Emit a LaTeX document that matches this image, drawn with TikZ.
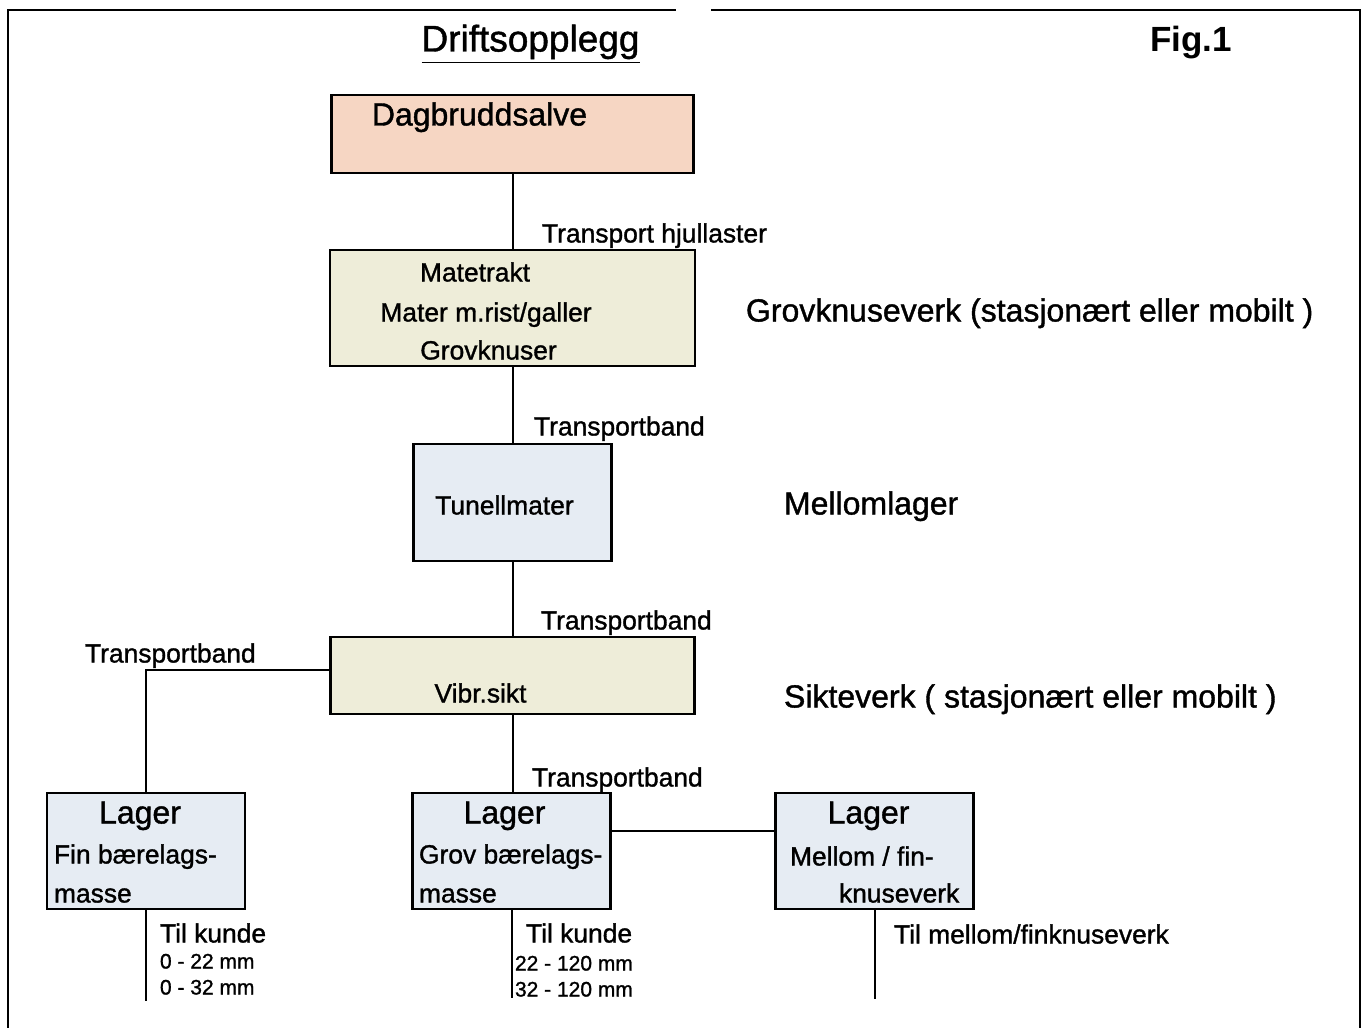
\documentclass[tikz,border=0pt]{standalone}
\usepackage{fontspec}
\setmainfont{Liberation Sans}[BoldFont={Liberation Sans Bold}]
\newfontfamily\heavy{Liberation Sans}[FakeBold=1.2]
\usepackage{tikz}

\definecolor{peach}{HTML}{F6D6C3}
\definecolor{sand}{HTML}{EEEDD9}
\definecolor{ice}{HTML}{E6ECF3}

\begin{document}
\begin{tikzpicture}[x=0.5pt,y=-0.5pt,line width=1pt]

  \tikzstyle{box}=[draw, line width=1.2pt, inner sep=0pt]
  \tikzstyle{txt}=[inner sep=0pt, text height=0.75em, text depth=0.2em, yshift=-2.5pt]
  \tikzstyle{big}=[txt, font=\heavy\fontsize{16}{18}\selectfont]
  \tikzstyle{mid}=[txt, font=\heavy\fontsize{13.2}{15}\selectfont]
  \tikzstyle{small}=[txt, font=\heavy\fontsize{10.5}{12}\selectfont]

  \useasboundingbox (0,0) rectangle (1368,1027);

  % frame
  \draw (8,1040) -- (8,10) -- (676,10);
  \draw (711,10) -- (1360,10) -- (1360,1040);

  \node[txt, font=\heavy\fontsize{18.5}{20}\selectfont] (tittel) at (530.5,41) {\underline{Driftsopplegg}};
  \node[txt, font=\fontsize{17.5}{20}\selectfont\bfseries] (fig) at (1191,41) {Fig.1};

  % boxes
  \node[box, fill=peach, minimum width=181pt,   minimum height=39pt]   (salve)  at (512.5,134)   {};
  \node[box, fill=sand,  minimum width=182.5pt, minimum height=58pt]   (knus)   at (512.5,308)   {};
  \node[box, fill=ice,   minimum width=99pt,    minimum height=58.5pt] (tunnel) at (512.5,502.5) {};
  \node[box, fill=sand,  minimum width=182pt,   minimum height=38.5pt] (sikt)   at (512.5,675.5) {};
  \node[box, fill=ice,   minimum width=99pt,    minimum height=58pt]   (fin)    at (146,851)     {};
  \node[box, fill=ice,   minimum width=99pt,    minimum height=58pt]   (grov)   at (511.5,851)   {};
  \node[box, fill=ice,   minimum width=99pt,    minimum height=58pt]   (mellom) at (874.5,851)   {};

  \coordinate (finut)    at ([yshift=-45.5pt]fin.south);
  \coordinate (grovut)   at ([yshift=-44pt]grov.south);
  \coordinate (mellomut) at ([yshift=-44.5pt]mellom.south);

  % texts in boxes
  \node[big] (t1) at (479.5,115) {Dagbruddsalve};
  \node[mid] (t2) at (475,271)   {Matetrakt};
  \node[mid] (t3) at (486,311)   {Mater m.rist/galler};
  \node[mid] (t4) at (488.5,349) {Grovknuser};
  \node[mid] (t5) at (504.5,504) {Tunellmater};
  \node[mid] (t6) at (480.5,692) {Vibr.sikt};

  \node[big] (f1) at (140,813)            {Lager};
  \node[mid, anchor=west] (f2) at (53,853) {Fin bærelags-};
  \node[mid, anchor=west] (f3) at (53,892) {masse};
  \node[big] (g1) at (504.5,813)           {Lager};
  \node[mid, anchor=west] (g2) at (418,853) {Grov bærelags-};
  \node[mid, anchor=west] (g3) at (418,892) {masse};
  \node[big] (m1) at (868.5,813)           {Lager};
  \node[mid, anchor=west] (m2) at (789,855) {Mellom / fin-};
  \node[mid, anchor=west] (m3) at (838,892) {knuseverk};

  % side texts
  \node[big, anchor=west] (s1) at (745,311) {Grovknuseverk (stasjonært eller mobilt )};
  \node[big, anchor=west] (s2) at (783,504) {Mellomlager};
  \node[big, anchor=west] (s3) at (783,697) {Sikteverk ( stasjonært eller mobilt )};

  % connectors
  \draw (salve) -- (knus);
  \draw (knus) -- (tunnel);
  \draw (tunnel) -- (sikt);
  \draw (sikt.south) -- (sikt.south |- grov.north);
  \draw ([yshift=3pt]sikt.west) -| (fin.north);
  \draw ([yshift=10pt]grov.east) -- ([yshift=10pt]mellom.west);
  \draw (fin.south) -- (finut);
  \draw (grov.south) -- (grovut);
  \draw (mellom.south) -- (mellomut);

  % connector labels
  \node[mid, anchor=west] (l1) at (541,232) {Transport hjullaster};
  \node[mid, anchor=west] (l2) at (533,425) {Transportband};
  \node[mid, anchor=west] (l3) at (540,619) {Transportband};
  \node[mid, anchor=west] (l4) at (84,652)  {Transportband};
  \node[mid, anchor=west] (l5) at (531,776) {Transportband};

  \node[mid, anchor=west]   (k1) at (159,932) {Til kunde};
  \node[small, anchor=west] (k2) at (159,958) {0 - 22 mm};
  \node[small, anchor=west] (k3) at (159,984) {0 - 32 mm};
  \node[mid, anchor=west]   (k4) at (525,932) {Til kunde};
  \node[small, anchor=west] (k5) at (514,960) {22 - 120 mm};
  \node[small, anchor=west] (k6) at (514,986) {32 - 120 mm};
  \node[mid, anchor=west]   (k7) at (893,933) {Til mellom/finknuseverk};
\end{tikzpicture}
\end{document}
